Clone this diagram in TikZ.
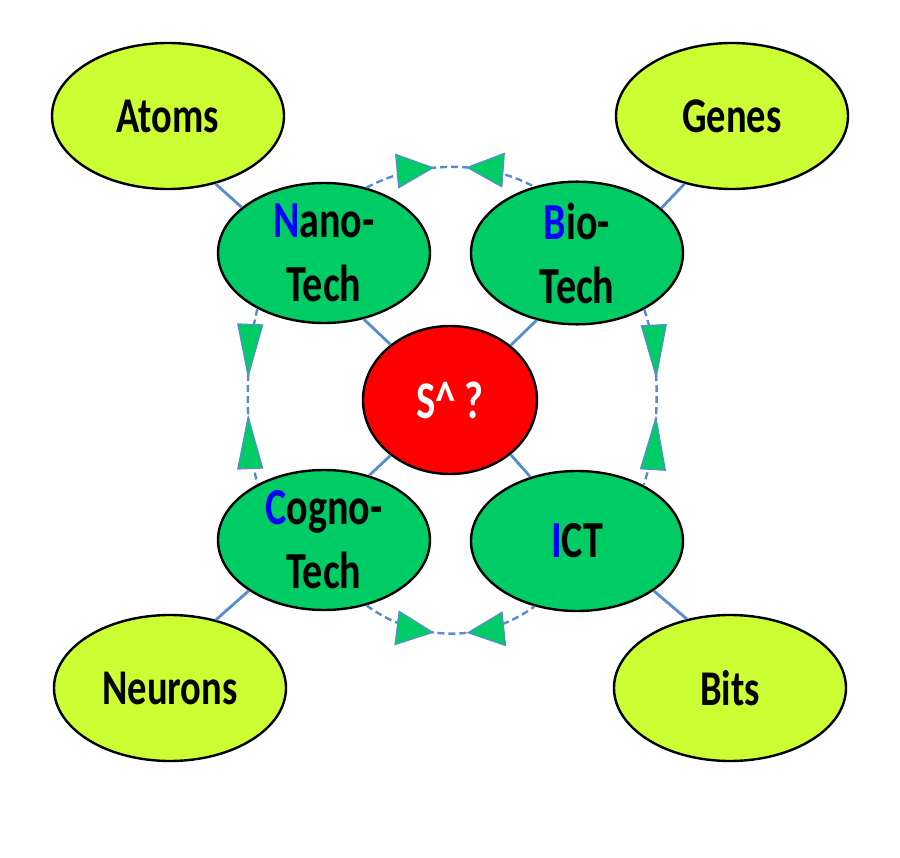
\documentclass[tikz,border=0pt]{standalone}
\usepackage{fontspec}
\setmainfont{Carlito}[FakeStretch=0.77]
\usetikzlibrary{arrows.meta,decorations.markings,shapes.geometric}
\definecolor{ygreen}{HTML}{CCFF33}
\definecolor{tgreen}{HTML}{00CC66}
\definecolor{lblue}{RGB}{88,140,208}
\definecolor{nblue}{HTML}{0000FF}
\tikzset{
  outer/.style={ellipse, draw=black, line width=2.4pt, fill=ygreen, inner sep=0pt,
    minimum width=232pt, minimum height=146pt, font=\fontsize{50}{63}\selectfont\bfseries},
  tech/.style={ellipse, draw=black, line width=2.4pt, fill=tgreen, inner sep=0pt,
    minimum width=212pt, minimum height=140pt, align=center,
    font=\fontsize{52}{64}\selectfont\bfseries},
  core/.style={ellipse, draw=black, line width=2.4pt, fill=red, inner sep=0pt,
    minimum width=174pt, minimum height=148pt, text=white,
    font=\fontsize{53}{63}\selectfont\bfseries},
  link/.style={draw=lblue, line width=2.8pt},
  hlink/.style={draw=lblue, line width=2.4pt, dash pattern=on 7pt off 4pt,
    postaction={decorate, decoration={markings,
      mark=at position 0.41 with {\arrow{Triangle[length=38pt,width=35pt,fill=tgreen,line width=1.2pt]}},
      mark=at position 0.59 with {\arrowreversed{Triangle[length=38pt,width=35pt,fill=tgreen,line width=1.2pt]}}}}},
  vlink/.style={draw=lblue, line width=2.4pt, dash pattern=on 7pt off 4pt,
    postaction={decorate, decoration={markings,
      mark=at position 0.40 with {\arrow{Triangle[length=55pt,width=26pt,fill=tgreen,line width=1.2pt]}},
      mark=at position 0.60 with {\arrowreversed{Triangle[length=55pt,width=26pt,fill=tgreen,line width=1.2pt]}}}}}
}
\begin{document}
\begin{tikzpicture}[x=1pt,y=-1pt]
\useasboundingbox (0,0) rectangle (900,858);
\fill[white] (0,0) rectangle (900,858);
% outer nodes
\node[outer] (atoms) at (168,116) {Atoms};
\node[outer] (genes) at (732,116) {Genes};
\node[outer] (neurons) at (170,688) {Neurons};
\node[outer] (bits) at (730,688) {Bits};
% tech nodes
\node[tech] (nano) at (324,253) {\textcolor{nblue}{N}ano-\\Tech};
\node[tech] (bio) at (577,253) {\textcolor{nblue}{B}io-\\Tech};
\node[tech] (cogno) at (324,540) {\textcolor{nblue}{C}ogno-\\Tech};
\node[tech] (ict) at (577,541) {\textcolor{nblue}{I}CT};
\node[core] (s) at (450,400) {S\^{} ?};
% straight connectors
\draw[link] (atoms.-55) -- (nano.151);
\draw[link] (genes.-125) -- (bio.28);
\draw[link] (neurons.56) -- (cogno.-146);
\draw[link] (bits.122) -- (ict.-33);
\draw[link] (s.137) -- (nano.-59);
\draw[link] (s.42) -- (bio.-121);
\draw[link] (s.-137) -- (cogno.55);
\draw[link] (s.-42) -- (ict.126);
% arcs
\draw[hlink] (nano.57) .. controls +(50,-27) and +(-50,-27) .. (bio.123);
\draw[hlink] (cogno.-57) .. controls +(50,37) and +(-50,37) .. (ict.-123);
\draw[vlink] (nano.-140) .. controls +(-13,50) and +(-13,-50) .. (cogno.140);
\draw[vlink] (bio.-40) .. controls +(17,50) and +(17,-50) .. (ict.40);
\end{tikzpicture}
\end{document}
